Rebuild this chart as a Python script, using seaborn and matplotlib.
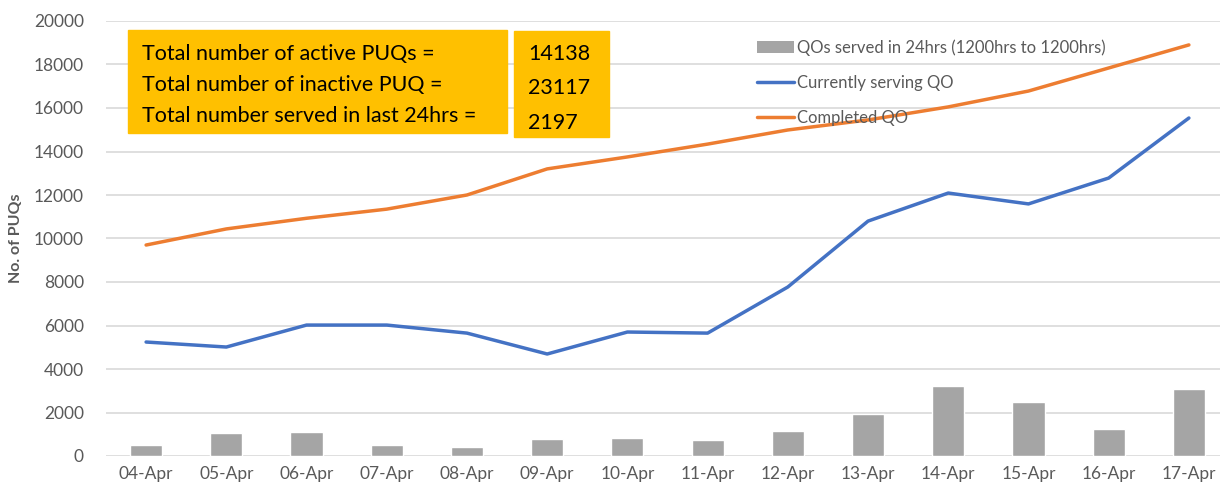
import matplotlib
matplotlib.use("Agg")
import matplotlib.pyplot as plt
import numpy as np
import pandas as pd
import seaborn as sns
from matplotlib.lines import Line2D
from matplotlib.patches import Patch, Rectangle

# data
dates = ["04-Apr", "05-Apr", "06-Apr", "07-Apr", "08-Apr", "09-Apr", "10-Apr",
         "11-Apr", "12-Apr", "13-Apr", "14-Apr", "15-Apr", "16-Apr", "17-Apr"]
served_24h = [490, 1040, 1085, 490, 410, 765, 840,
              720, 1145, 1910, 3205, 2475, 1250, 3070]
currently_serving = [5240, 5010, 6020, 6020, 5650, 4690, 5700,
                     5650, 7770, 10800, 12090, 11590, 12780, 15540]
completed = [9700, 10440, 10930, 11350, 12000, 13200, 13750,
             14340, 14990, 15450, 16050, 16780, 17840, 18900]

series_labels = ["QOs served in 24hrs (1200hrs to 1200hrs)",
                 "Currently serving QO", "Completed QO"]
box_labels = ["Total number of active PUQs =",
              "Total number of inactive PUQ =",
              "Total number served in last 24hrs ="]
box_values = ["14138", "23117", "2197"]

GREY = "#A5A5A5"
BLUE = "#4472C4"
ORANGE = "#ED7D31"
GOLD = "#FFC000"
TEXT = "#595959"

sns.set_theme(style="white")
plt.rcParams["font.family"] = ["Lato", "DejaVu Sans"]

df = pd.DataFrame({
    "date": dates,
    "served": served_24h,
    "serving": currently_serving,
    "completed": completed,
})

W, H = 1220, 492
fig = plt.figure(figsize=(W / 100, H / 100), dpi=100)
ax = fig.add_axes([106 / W, 36 / H, (1229 - 106) / W, 435 / H])

sns.barplot(data=df, x="date", y="served", color=GREY, saturation=1,
            width=0.4, ax=ax, zorder=2)
sns.lineplot(data=df, x="date", y="serving", color=BLUE, linewidth=2.5,
             sort=False, ax=ax, zorder=3)
sns.lineplot(data=df, x="date", y="completed", color=ORANGE, linewidth=2.5,
             sort=False, ax=ax, zorder=3)

ax.set_xlim(-0.5, len(dates) - 0.5)
ax.set_ylim(0, 20000)
ax.set_yticks(np.arange(0, 20001, 2000))
ax.grid(axis="y", color="#D9D9D9", linewidth=1.2, zorder=0)
ax.grid(axis="x", visible=False)
ax.set_axisbelow(True)
for s in ax.spines.values():
    s.set_visible(False)
ax.tick_params(axis="both", length=0, labelsize=12.5, colors=TEXT)
ax.tick_params(axis="y", pad=16)
ax.tick_params(axis="x", pad=7)
ax.set_xlabel("")
ax.set_ylabel("No. of PUQs", fontsize=11.5, fontweight="bold", color=TEXT,
              labelpad=8)

# legend, no frame, top right
handles = [Patch(facecolor=GREY, edgecolor="none"),
           Line2D([0], [0], color=BLUE, lw=2.5),
           Line2D([0], [0], color=ORANGE, lw=2.5)]
fig.legend(handles, series_labels, loc="upper left",
           bbox_to_anchor=(742 / W, 1 - 24 / H), frameon=False,
           fontsize=12, labelcolor=TEXT, handlelength=2.2,
           handletextpad=0.2, labelspacing=1.15)

# yellow summary boxes
fig.add_artist(Rectangle((128 / W, 1 - 133 / H), (507 - 128) / W, 103 / H,
                         transform=fig.transFigure, color=GOLD, zorder=5))
fig.add_artist(Rectangle((514 / W, 1 - 137 / H), (609 - 514) / W, 106 / H,
                         transform=fig.transFigure, color=GOLD, zorder=5))
for i, (lab, val) in enumerate(zip(box_labels, box_values)):
    fig.text(142 / W, 1 - (54 + 31 * i) / H, lab, fontsize=15.5,
             color="black", va="center", ha="left", zorder=6)
    fig.text(528 / W, 1 - (54 + 34.5 * i) / H, val, fontsize=15.5,
             color="black", va="center", ha="left", zorder=6)

fig.savefig("out.png", dpi=100)
